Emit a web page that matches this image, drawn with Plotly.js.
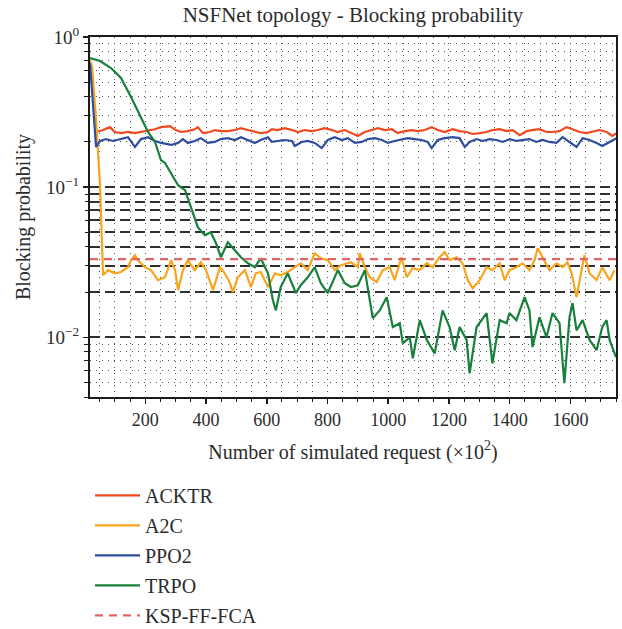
<!DOCTYPE html>
<html>
<head>
<meta charset="utf-8">
<script src="https://cdn.plot.ly/plotly-3.0.1.min.js"></script>
<style>html,body{margin:0;padding:0;background:#fff;}#chart{width:622px;height:629px;}</style>
</head>
<body>
<div id="chart"></div>
<script>
// ---- Data ----
const acktrX = [38,61,84,100,120,143,166,186,209,232,252,281,301,317,340,363,373,390,413,429,449,472,495,515,538,561,580,604,617,636,659,683,703,725,748,768,791,814,834,857,880,900,923,946,966,989,1012,1031,1054,1077,1097,1120,1143,1163,1186,1212,1235,1258,1278,1301,1324,1343,1367,1390,1410,1433,1456,1475,1498,1521,1541,1564,1587,1607,1630,1653,1673,1696,1719,1738,1752];
const acktrY = [0.233,0.240,0.251,0.233,0.229,0.233,0.229,0.233,0.236,0.243,0.251,0.255,0.240,0.233,0.236,0.243,0.251,0.229,0.233,0.240,0.236,0.236,0.240,0.247,0.240,0.233,0.229,0.233,0.243,0.240,0.247,0.240,0.233,0.240,0.236,0.240,0.247,0.240,0.233,0.240,0.229,0.219,0.233,0.240,0.247,0.240,0.243,0.229,0.236,0.240,0.236,0.240,0.251,0.240,0.233,0.243,0.236,0.233,0.226,0.229,0.233,0.240,0.243,0.236,0.240,0.222,0.236,0.240,0.243,0.233,0.233,0.236,0.251,0.243,0.233,0.229,0.233,0.240,0.233,0.219,0.229];

const a2cX = [18,25,38,51,61,77,100,120,143,153,166,176,199,219,242,265,285,298,308,324,340,363,383,400,423,446,462,479,488,505,528,548,564,580,604,627,646,669,692,712,735,758,778,801,824,844,877,900,906,923,939,962,982,1005,1021,1044,1061,1080,1104,1127,1146,1169,1186,1202,1225,1245,1262,1278,1301,1324,1343,1367,1383,1399,1422,1442,1465,1482,1492,1508,1531,1554,1574,1590,1604,1620,1637,1646,1663,1686,1705,1729,1745];
const a2cY = [0.70,0.631,0.28,0.103,0.0259,0.028,0.0267,0.0272,0.0293,0.0326,0.0352,0.0326,0.0293,0.028,0.024,0.0251,0.0326,0.028,0.0206,0.028,0.0326,0.028,0.0316,0.028,0.0206,0.0293,0.0267,0.0229,0.020,0.0251,0.028,0.0216,0.0267,0.0272,0.0216,0.0267,0.0259,0.0272,0.0293,0.0311,0.028,0.0363,0.0336,0.0326,0.028,0.0302,0.0316,0.0293,0.0363,0.0293,0.0251,0.0233,0.028,0.0293,0.024,0.0341,0.0251,0.0288,0.028,0.0311,0.0293,0.0341,0.0369,0.0326,0.0341,0.0311,0.024,0.0212,0.024,0.0293,0.028,0.0311,0.024,0.028,0.0293,0.0311,0.028,0.0326,0.0392,0.0341,0.028,0.0311,0.0293,0.0316,0.0267,0.0185,0.028,0.0352,0.0267,0.024,0.0293,0.024,0.028];

const ppo2X = [18,38,51,71,94,117,143,166,186,209,232,252,285,308,324,340,363,383,406,429,449,472,495,515,538,561,580,604,617,636,659,683,692,715,735,758,781,801,824,847,867,890,913,933,956,979,999,1021,1044,1064,1087,1110,1130,1143,1163,1186,1212,1235,1252,1268,1291,1311,1334,1357,1377,1400,1422,1442,1465,1488,1508,1531,1554,1574,1597,1620,1640,1663,1686,1705,1729,1752];
const ppo2Y = [0.671,0.185,0.203,0.209,0.203,0.209,0.215,0.185,0.209,0.215,0.203,0.197,0.191,0.197,0.209,0.197,0.203,0.212,0.197,0.200,0.209,0.212,0.206,0.215,0.206,0.197,0.206,0.215,0.200,0.203,0.206,0.203,0.188,0.200,0.203,0.197,0.182,0.206,0.215,0.206,0.212,0.197,0.200,0.209,0.212,0.206,0.197,0.203,0.209,0.212,0.209,0.206,0.200,0.182,0.206,0.212,0.215,0.212,0.185,0.200,0.209,0.203,0.209,0.206,0.200,0.209,0.203,0.206,0.209,0.200,0.206,0.200,0.197,0.215,0.200,0.185,0.212,0.206,0.197,0.188,0.200,0.212];

const trpoX = [18,51,87,120,153,186,209,232,252,265,285,308,331,350,373,396,416,433,449,472,495,515,538,561,580,604,620,630,646,669,696,712,735,758,778,801,834,857,877,900,923,933,949,972,995,1015,1038,1048,1071,1081,1104,1127,1153,1179,1202,1219,1235,1258,1268,1291,1324,1343,1367,1390,1399,1422,1449,1465,1475,1498,1521,1541,1564,1580,1597,1607,1620,1640,1663,1686,1705,1719,1729,1750];
const trpoY = [0.724,0.692,0.621,0.533,0.398,0.293,0.233,0.200,0.151,0.145,0.124,0.103,0.0955,0.0736,0.0541,0.0479,0.050,0.0423,0.0341,0.043,0.038,0.0341,0.0311,0.0293,0.0336,0.0267,0.0177,0.0151,0.0216,0.0267,0.0197,0.0222,0.0251,0.0293,0.0229,0.0197,0.028,0.0229,0.0216,0.0222,0.028,0.0216,0.0134,0.0151,0.0185,0.0117,0.0124,0.0091,0.010,0.00724,0.013,0.0096,0.0078,0.0151,0.0117,0.0082,0.0117,0.0096,0.00575,0.0117,0.0145,0.0067,0.013,0.0124,0.0145,0.013,0.0185,0.0151,0.0086,0.0136,0.010,0.0145,0.0124,0.00494,0.0136,0.0169,0.0111,0.013,0.0096,0.0082,0.0117,0.013,0.0096,0.00736];

const kspValue = 0.0331;
const xSpan = [18, 1750];

const xTickVals = [200,400,600,800,1000,1200,1400,1600];
const yDecades = [0.01, 0.1, 1];
const yDecadeText = ['10<sup>−2</sup>', '10<sup>−1</sup>', '10<sup>0</sup>'];
const yDashedLevels = [0.01,0.02,0.03,0.04,0.05,0.06,0.07,0.08,0.09,0.1];
const yDottedLevels = [0.004,0.005,0.006,0.007,0.008,0.009,0.2,0.3,0.4,0.5,0.6,0.7,0.8,0.9];

// ---- Build ----
const FONT = 'Liberation Serif, Times New Roman, serif';
const TXT = '#2b2b2b';
const yRange = [Math.log10(0.004), 0];

const mk = (name, x, y, color, dash, yax) => ({
  type: 'scatter', mode: 'lines', name: name, x: x, y: y,
  legendgroup: name, yaxis: yax || 'y',
  line: {color: color, width: 2.2, dash: dash || 'solid'}
});

const traces = [
  mk('ACKTR', acktrX, acktrY, '#f2481f'),
  mk('A2C', a2cX, a2cY, '#f8a51d'),
  mk('PPO2', ppo2X, ppo2Y, '#2f4d9f'),
  mk('TRPO', trpoX, trpoY, '#17803b'),
  mk('KSP-FF-FCA', xSpan, xSpan.map(() => kspValue), '#e26464', '8px,6px', 'y2')
];

const dotGrid = '1px,5px';

const layout = {
  width: 622, height: 629,
  margin: {l: 90, r: 6, t: 37, b: 232},
  paper_bgcolor: '#ffffff', plot_bgcolor: '#ffffff',
  font: {family: FONT, color: TXT, size: 18},
  title: {text: 'NSFNet topology - Blocking probability', font: {family: FONT, size: 21, color: TXT},
          x: 0.5, xref: 'paper', xanchor: 'center', y: 0.976, yref: 'container', yanchor: 'middle'},
  xaxis: {
    range: xSpan, showline: true, mirror: true, linecolor: '#1a1a1a', linewidth: 2,
    tickmode: 'array', tickvals: xTickVals, ticks: 'outside', ticklen: 5, tickcolor: '#1a1a1a', tickwidth: 1.5,
    tickfont: {size: 18, family: FONT, color: TXT},
    showgrid: true, gridcolor: '#555', gridwidth: 1, griddash: dotGrid,
    zeroline: false,
    minor: {dtick: 50, tick0: 0, ticks: 'outside', ticklen: 3, tickcolor: '#1a1a1a', tickwidth: 1,
            showgrid: true, gridcolor: '#555', gridwidth: 1, griddash: dotGrid},
    title: {text: 'Number of simulated request (×10<sup>2</sup>)', font: {size: 20, family: FONT, color: TXT}, standoff: 16}
  },
  yaxis: {
    type: 'log', range: yRange,
    showline: true, mirror: true, linecolor: '#1a1a1a', linewidth: 2,
    tickmode: 'array', tickvals: yDecades, ticktext: yDecadeText,
    ticks: 'outside', ticklen: 5, tickcolor: '#1a1a1a', tickwidth: 1.5,
    tickfont: {size: 19, family: FONT, color: TXT},
    showgrid: false, zeroline: false,
    minor: {tickmode: 'array', tickvals: yDottedLevels, ticks: 'outside', ticklen: 4, tickcolor: '#1a1a1a', tickwidth: 1,
            showgrid: true, gridcolor: '#555', gridwidth: 1, griddash: dotGrid},
    title: {text: 'Blocking probability', font: {size: 20, family: FONT, color: TXT}, standoff: 10}
  },
  yaxis2: {
    type: 'log', range: yRange, overlaying: 'y', side: 'left', anchor: 'x',
    tickmode: 'array', tickvals: yDashedLevels, showticklabels: false,
    ticks: 'outside', ticklen: 4, tickcolor: '#1a1a1a', tickwidth: 1,
    showgrid: true, gridcolor: '#303030', gridwidth: 2, griddash: '10px,5px',
    showline: false, zeroline: false
  },
  showlegend: true,
  legend: {x: 0, xanchor: 'left', xref: 'paper', y: 0.2435, yref: 'container', yanchor: 'top', orientation: 'v',
           font: {size: 20, family: FONT, color: TXT}, bgcolor: 'rgba(0,0,0,0)',
           itemwidth: 45, tracegroupgap: 1, traceorder: 'grouped'}
};

Plotly.newPlot('chart', traces, layout, {displayModeBar: false, staticPlot: true});
</script>
</body>
</html>
